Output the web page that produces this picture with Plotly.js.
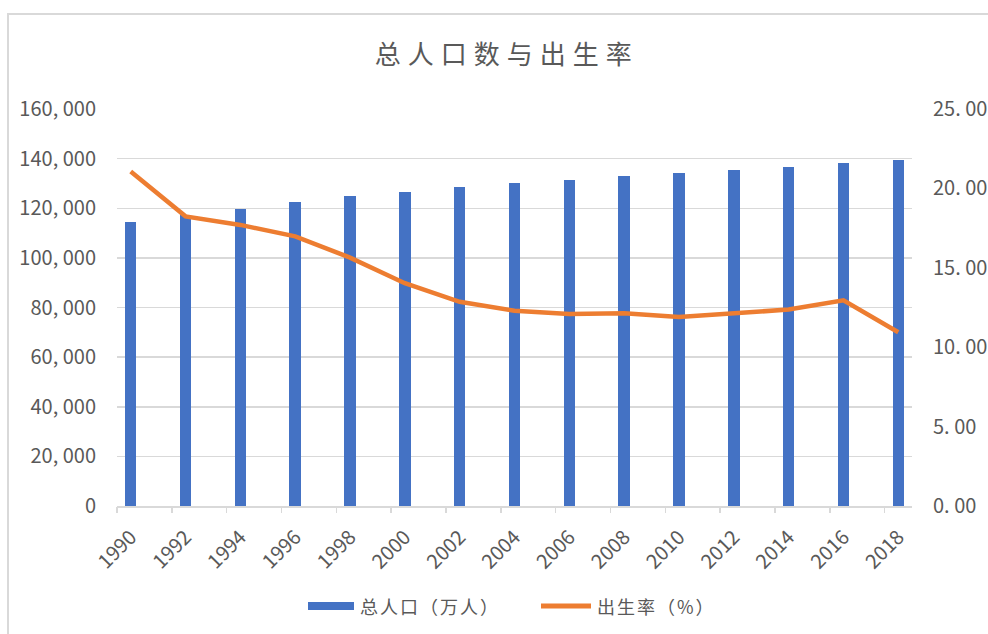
<!DOCTYPE html>
<html>
<head>
<meta charset="utf-8">
<script src="https://cdn.plot.ly/plotly-3.0.1.min.js"></script>
<style>
  html, body { margin: 0; padding: 0; background: #ffffff; }
  #chart { position: absolute; left: 0; top: 0; width: 988px; height: 634px; }
  #frame { position: absolute; left: 7px; top: 13px; width: 1000px; height: 700px;
           border-left: 2px solid #d9d9d9; border-top: 2px solid #d9d9d9; pointer-events: none; }
  .gtitle { letter-spacing: 7px; }
  .annotation-text { letter-spacing: 2px; }
</style>
</head>
<body>
<div id="chart"></div>
<div id="frame"></div>
<script>
// ---- data ----
const years = [1990, 1992, 1994, 1996, 1998, 2000, 2002, 2004, 2006, 2008, 2010, 2012, 2014, 2016, 2018];
const yearLabels = ["1990", "1992", "1994", "1996", "1998", "2000", "2002", "2004", "2006", "2008", "2010", "2012", "2014", "2016", "2018"];
const population = [114333, 117171, 119850, 122389, 124761, 126743, 128453, 129988, 131448, 132802, 134091, 135404, 136782, 138271, 139538];
const birthRate = [21.06, 18.24, 17.70, 16.98, 15.64, 14.03, 12.86, 12.29, 12.09, 12.14, 11.90, 12.10, 12.37, 12.95, 10.94];
const leftTickVals = [0, 20000, 40000, 60000, 80000, 100000, 120000, 140000, 160000];
const leftTickText = ["0", "20, 000", "40, 000", "60, 000", "80, 000", "100, 000", "120, 000", "140, 000", "160, 000"];
const rightTickVals = [0, 5, 10, 15, 20, 25];
const rightTickText = ["0. 00", "5. 00", "10. 00", "15. 00", "20. 00", "25. 00"];
const seriesNames = ["总人口（万人）", "出生率（%）"];
const chartTitle = "总人口数与出生率";

// ---- layout helpers ----
const W = 988, H = 634;
const M = { l: 117, r: 76, t: 109, b: 128 };
const PW = W - M.l - M.r, PH = H - M.t - M.b;
const px = p => (p - M.l) / PW;
const py = p => (H - M.b - p) / PH;

const blue = "#4472C4", orange = "#ED7D31", grid = "#d9d9d9", txt = "#595959";
const font = "Noto Sans CJK SC, Noto Sans, sans-serif";

const traces = [
  { type: "bar", x: years, y: population, name: seriesNames[0], width: 0.42,
    marker: { color: blue }, showlegend: false, hoverinfo: "x+y" },
  { type: "scatter", mode: "lines", x: years, y: birthRate, name: seriesNames[1], yaxis: "y2",
    line: { color: orange, width: 4.5 }, showlegend: false },
  { type: "scatter", mode: "lines", x: [], y: [], xaxis: "x2", showlegend: false, hoverinfo: "skip" }
];

const xRange = [years[0] - 0.5, years[years.length - 1] + 0.5];

const layout = {
  width: W, height: H,
  margin: M,
  paper_bgcolor: "#ffffff", plot_bgcolor: "#ffffff",
  font: { family: font, color: txt, size: 20 },
  title: { text: chartTitle, x: 0.513, xanchor: "center", y: 0.913, yanchor: "middle",
           font: { family: font, size: 26, color: txt } },
  bargap: 0,
  xaxis: {
    range: xRange, tickmode: "array", tickvals: years, ticktext: yearLabels,
    tickangle: -45, ticks: "outside", ticklen: 10, tickcolor: "rgba(0,0,0,0)",
    showgrid: false, zeroline: false, showline: true, linecolor: grid, linewidth: 1.5,
    tickfont: { family: font, size: 20, color: txt }, fixedrange: true
  },
  xaxis2: {
    overlaying: "x", anchor: "y", side: "bottom", range: xRange,
    tickmode: "array", tickvals: years.map(v => v - 0.5), showticklabels: false,
    ticks: "outside", ticklen: 6, tickwidth: 1.5, tickcolor: grid,
    showgrid: false, zeroline: false, showline: false
  },
  yaxis: {
    range: [0, 160000], tickmode: "array", tickvals: leftTickVals, ticktext: leftTickText,
    showgrid: true, gridcolor: grid, gridwidth: 1.5, zeroline: false, showline: false,
    ticks: "outside", ticklen: 16, tickcolor: "rgba(0,0,0,0)",
    tickfont: { family: font, size: 20, color: txt }
  },
  yaxis2: {
    overlaying: "y", side: "right", range: [0, 25], tickmode: "array",
    tickvals: rightTickVals, ticktext: rightTickText,
    showgrid: false, zeroline: false, showline: false,
    ticks: "outside", ticklen: 16, tickcolor: "rgba(0,0,0,0)",
    tickfont: { family: font, size: 20, color: txt }
  },
  shapes: [
    { type: "rect", xref: "paper", yref: "paper", x0: px(308), x1: px(354), y0: py(610), y1: py(602),
      fillcolor: blue, line: { width: 0 } },
    { type: "line", xref: "paper", yref: "paper", x0: px(541), x1: px(591), y0: py(606), y1: py(606),
      line: { color: orange, width: 5 } }
  ],
  annotations: [
    { xref: "paper", yref: "paper", x: px(358), y: py(606), xanchor: "left", yanchor: "middle",
      text: seriesNames[0], showarrow: false, font: { family: font, size: 18, color: txt } },
    { xref: "paper", yref: "paper", x: px(595), y: py(606), xanchor: "left", yanchor: "middle",
      text: seriesNames[1], showarrow: false, font: { family: font, size: 18, color: txt } }
  ]
};

Plotly.newPlot("chart", traces, layout, { displayModeBar: false, staticPlot: true });
</script>
</body>
</html>
